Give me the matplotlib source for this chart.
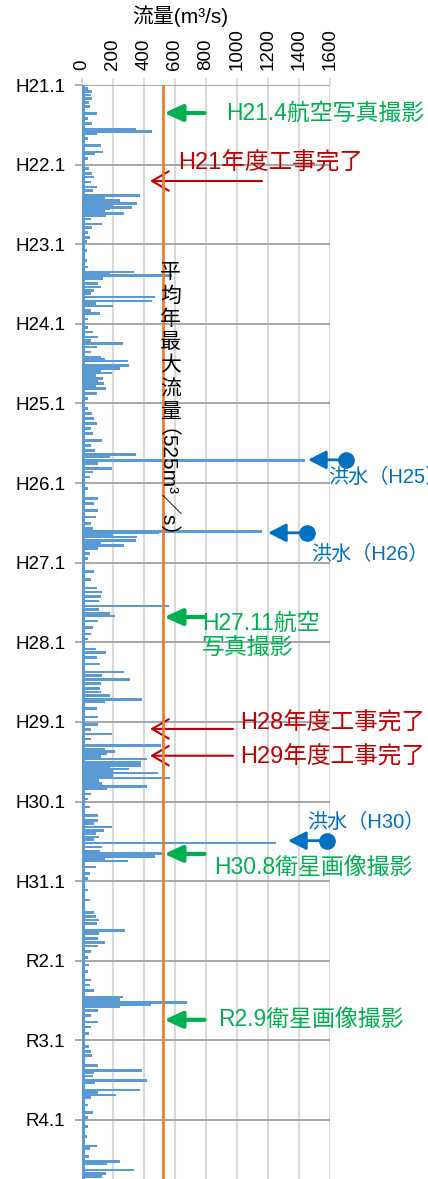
import matplotlib.pyplot as plt
import numpy as np

plt.rcParams["font.family"] = ["Liberation Sans", "Noto Sans CJK JP"]

# --- data -------------------------------------------------------------
year_labels = ["H21.1", "H22.1", "H23.1", "H24.1", "H25.1", "H26.1", "H27.1",
               "H28.1", "H29.1", "H30.1", "H31.1", "R2.1", "R3.1", "R4.1"]
mean_annual_max = 525   # m3/s
base_flow = 20          # low flow seen all along the record

# month within each year (0 = Jan) and flow (m3/s)
m_h21 = [0.50, 1.01, 1.51, 2.02, 2.67, 3.28, 4.29, 5.04, 5.80, 6.66, 6.96, 7.31, 8.07, 9.08, 10.09, 10.34, 11.09]
q_h21 = [40, 63, 55, 63, 45, 50, 95, 40, 63, 347, 453, 95, 40, 120, 137, 84, 40]
m_h22 = [0.61, 1.37, 1.87, 2.63, 3.39, 3.90, 4.66, 5.01, 5.42, 5.82, 6.18, 6.43, 6.68, 7.04, 7.34, 7.70, 8.20, 8.96, 9.47, 10.23, 10.99, 11.59]
q_h22 = [45, 63, 80, 60, 95, 70, 375, 150, 242, 358, 200, 322, 180, 150, 274, 158, 60, 126, 63, 40, 50, 35]
m_h23 = [0.91, 2.42, 3.43, 4.19, 4.44, 4.69, 4.94, 5.19, 5.95, 6.45, 6.96, 7.46, 7.97, 8.57, 8.98, 9.33, 9.98, 10.49, 11.25]
q_h23 = [30, 35, 40, 337, 179, 580, 130, 133, 105, 125, 80, 60, 474, 453, 90, 200, 60, 115, 40]
m_h24 = [0.60, 1.25, 2.00, 2.50, 3.00, 3.50, 4.25, 5.00, 5.30, 5.60, 6.25, 6.50, 6.75, 7.10, 7.40, 7.75, 8.25, 8.60, 9.00, 9.40, 9.75, 10.50, 11.25]
q_h24 = [40, 70, 105, 60, 263, 95, 60, 120, 150, 295, 305, 130, 242, 120, 196, 90, 137, 100, 143, 90, 154, 95, 40]
m_h25 = [0.76, 1.51, 2.27, 3.03, 3.78, 4.54, 5.55, 6.30, 7.06, 7.72, 8.07, 8.57, 9.08, 9.83, 10.34, 11.09]
q_h25 = [40, 63, 80, 95, 60, 70, 126, 60, 85, 347, 179, 1440, 100, 196, 70, 50]
m_h26 = [0.85, 2.36, 3.11, 4.12, 5.12, 6.12, 6.88, 7.28, 7.53, 7.88, 8.13, 8.63, 9.04, 9.39, 9.89, 10.64, 11.40]
q_h26 = [40, 100, 80, 100, 90, 60, 70, 1160, 495, 200, 358, 347, 120, 274, 100, 50, 40]
m_h27 = [1.34, 2.58, 3.82, 4.41, 5.06, 5.80, 6.54, 7.04, 7.68, 8.03, 8.78, 9.77, 10.76, 11.50]
q_h27 = [80, 60, 95, 126, 120, 110, 562, 110, 179, 210, 100, 70, 60, 40]
m_h28 = [1.00, 1.50, 2.25, 3.25, 4.50, 5.00, 5.65, 6.25, 7.00, 7.50, 8.00, 8.60, 9.00, 10.00, 11.25]
q_h28 = [90, 158, 95, 115, 270, 130, 309, 120, 115, 125, 180, 385, 150, 95, 100]
m_h29 = [0.35, 1.10, 1.85, 2.60, 3.60, 4.10, 4.45, 4.85, 5.25, 5.60, 6.10, 6.35, 6.60, 6.85, 7.10, 7.35, 7.70, 8.10, 8.45, 8.85, 9.25, 9.70, 10.10, 10.85, 11.60]
q_h29 = [100, 60, 196, 60, 511, 150, 210, 160, 120, 421, 379, 347, 379, 180, 300, 200, 490, 200, 568, 110, 130, 421, 160, 60, 40]
m_h30 = [0.85, 2.10, 2.85, 3.35, 3.85, 4.35, 4.85, 5.35, 5.75, 6.25, 6.85, 7.45, 7.85, 8.25, 8.60, 8.95, 9.85, 10.85, 11.60]
q_h30 = [50, 105, 100, 80, 196, 140, 90, 110, 80, 1250, 130, 115, 516, 474, 150, 295, 90, 50, 40]
m_h31 = [1.36, 2.86, 4.72, 5.37, 5.87, 6.38, 7.48, 7.88, 8.63, 9.29, 9.79, 10.64, 11.50]
q_h31 = [40, 50, 80, 90, 108, 95, 280, 110, 100, 147, 105, 60, 40]
m_r2 = [0.66, 1.66, 2.92, 3.68, 4.44, 5.45, 5.80, 6.30, 6.56, 6.86, 7.46, 8.22, 9.23, 9.98, 10.99]
q_r2 = [45, 40, 55, 50, 75, 263, 242, 680, 442, 242, 100, 60, 100, 55, 45]
m_r3 = [0.91, 1.66, 2.32, 3.83, 4.59, 4.94, 5.35, 6.05, 6.45, 7.46, 7.87, 8.22, 8.62, 9.73, 10.89, 11.60]
q_r3 = [45, 60, 63, 100, 389, 80, 70, 421, 85, 373, 105, 221, 60, 40, 70, 40]
m_r4 = [1.01, 2.52, 3.93, 4.29, 5.55, 6.30, 6.66, 7.56, 8.07, 8.57]
q_r4 = [40, 30, 99, 50, 45, 246, 160, 337, 158, 126]

# --- build series ------------------------------------------------------
month_lists = [m_h21, m_h22, m_h23, m_h24, m_h25, m_h26, m_h27,
               m_h28, m_h29, m_h30, m_h31, m_r2, m_r3, m_r4]
flow_lists = [q_h21, q_h22, q_h23, q_h24, q_h25, q_h26, q_h27,
              q_h28, q_h29, q_h30, q_h31, q_r2, q_r3, q_r4]
months = np.concatenate([np.array(m) + 12 * i for i, m in enumerate(month_lists)])
flows = np.concatenate([np.array(q, dtype=float) for q in flow_lists])

BLUE = "#5B9BD5"
ORANGE = "#ED7D31"
GREEN = "#00B050"
RED = "#C00000"
DBLUE = "#0070C0"

fig = plt.figure(figsize=(4.28, 11.79), dpi=100)
ax = fig.add_axes([82 / 428, 0, 248 / 428, 1094 / 1179])

y_end = 164.9
ax.barh(0, base_flow, height=y_end, align="edge", color=BLUE, zorder=3)
ax.barh(months, flows, height=0.4, color=BLUE, zorder=3)
ax.axvline(mean_annual_max, color=ORANGE, lw=2, zorder=4)

ax.set_xlim(0, 1600)
ax.set_ylim(y_end, 0)
ax.xaxis.tick_top()
ax.set_xticks(np.arange(0, 1601, 200))
ax.set_xticklabels([str(v) for v in range(0, 1601, 200)], rotation=90, fontsize=13.5)
ax.set_yticks(np.arange(len(year_labels)) * 12)
ax.set_yticklabels(year_labels, fontsize=13.5)
ax.tick_params(axis="y", length=5, width=1.2, color="#A0A0A0", pad=7)
ax.tick_params(axis="x", length=5, width=1.2, color="#D9D9D9", pad=6)
ax.grid(axis="x", color="#D9D9D9", lw=1.5, zorder=0)
ax.grid(axis="y", color="#A0A0A0", lw=1.3, zorder=1)
ax.set_axisbelow(True)
for s in ax.spines.values():
    s.set_visible(False)

fig.text(180 / 428, 1 - 16 / 1179, "流量(m³/s)", ha="center", va="center", fontsize=15)

# vertical label on the mean line
for k, ch in enumerate("平均年最大流量"):
    ax.text(570, 28.3 + 3.5 * k, ch, ha="center", va="center", fontsize=15, zorder=5)
ax.text(470, 61.6, "（525m³／s）", rotation=-90, ha="center", va="center", fontsize=15, zorder=5)


def photo(y, text, ty=None, tx=852):
    ax.annotate("", xy=(530, y), xytext=(790, y), annotation_clip=False,
                arrowprops=dict(arrowstyle="-|>,head_length=0.55,head_width=0.25",
                                lw=3, color=GREEN, mutation_scale=20, shrinkA=0, shrinkB=0))
    ax.text(tx, y if ty is None else ty, text, color=GREEN, fontsize=16.5,
            ha="left", va="center", clip_on=False, linespacing=1.05)


def works(y, x_tail, text, tx, ty):
    ax.annotate("", xy=(439, y), xytext=(x_tail, y), annotation_clip=False,
                arrowprops=dict(arrowstyle="->,head_length=0.6,head_width=0.35",
                                lw=1.5, color=RED, mutation_scale=20, shrinkA=0, shrinkB=0))
    ax.text(tx, ty, text, color=RED, fontsize=17, ha="left", va="center", clip_on=False)


def flood(y, x_tip, x_dot, text, tx, ty):
    ax.annotate("", xy=(x_tip, y), xytext=(x_dot, y), annotation_clip=False,
                arrowprops=dict(arrowstyle="-|>,head_length=0.55,head_width=0.28",
                                lw=2, color=DBLUE, mutation_scale=20, shrinkA=0, shrinkB=0))
    ax.plot([x_dot], [y], "o", ms=11, color=DBLUE, clip_on=False, zorder=6)
    ax.text(tx, ty, text, color=DBLUE, fontsize=14.5, ha="left", va="center", clip_on=False)


photo(4.22, "H21.4航空写真撮影", tx=929)
works(14.47, 1161, "H21年度工事完了", 619, 11.76)
flood(56.5, 1458, 1703, "洪水（H25）", 1587, 59.2)
flood(67.5, 1200, 1452, "洪水（H26）", 1477, 70.8)
photo(80.2, "H27.11航空\n写真撮影", ty=83.0, tx=774)
works(97.06, 974, "H28年度工事完了", 1019, 96.2)
works(101.1, 974, "H29年度工事完了", 1019, 101.3)
flood(113.9, 1329, 1581, "洪水（H30）", 1452, 111.1)
photo(115.9, "H30.8衛星画像撮影", ty=118.0)
photo(140.9, "R2.9衛星画像撮影", tx=877)

fig.savefig("out.png", dpi=100)
